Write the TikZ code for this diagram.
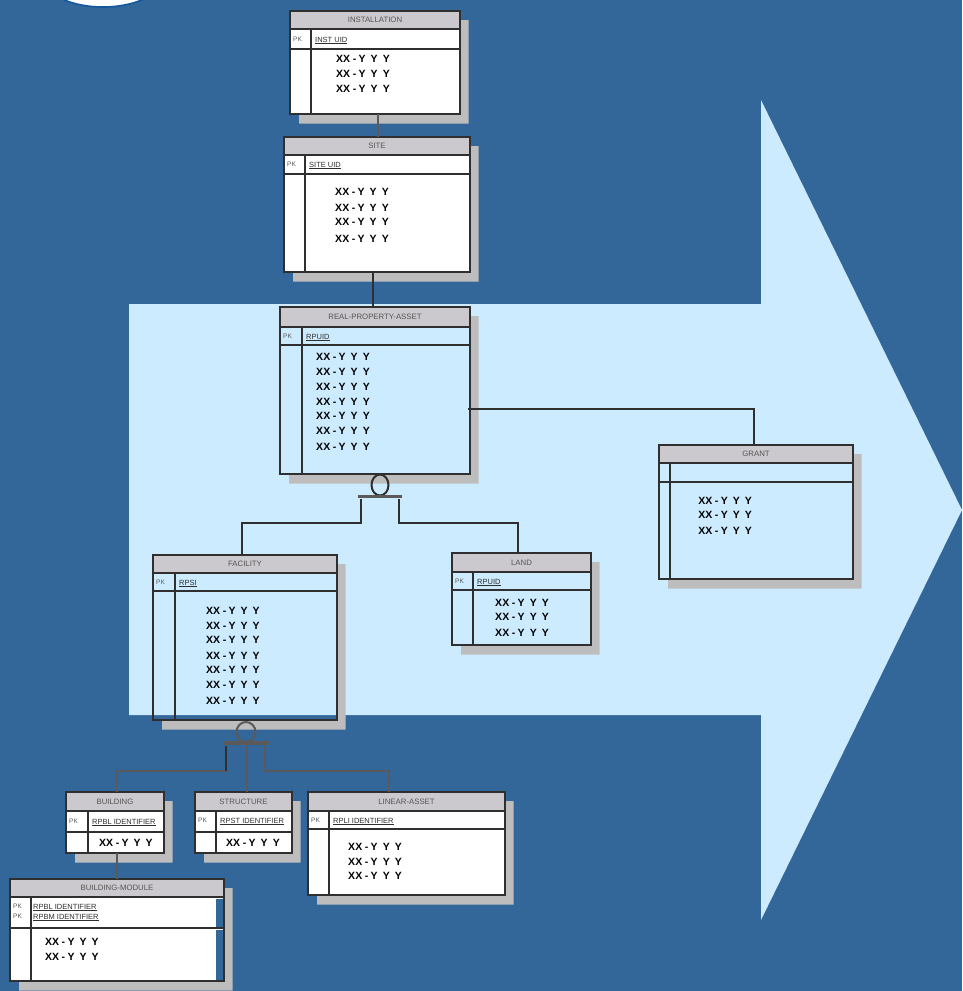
\documentclass[tikz,border=0pt]{standalone}
\usepackage{fontspec}
\setmainfont{Liberation Sans}
\usetikzlibrary{calc,shapes.geometric}
\definecolor{bgblue}{HTML}{336699}
\definecolor{arrowblue}{HTML}{CCEBFF}
\definecolor{titlegrey}{HTML}{CBC9CD}
\definecolor{shadowgrey}{HTML}{BDBDBD}
\definecolor{linedark}{HTML}{2F2F2F}
\definecolor{linemid}{HTML}{5A5A5A}
\definecolor{labelgrey}{HTML}{555555}
\definecolor{logoedge}{HTML}{14589C}
\newcommand{\xxyy}{XX\kern2.5pt-\kern2.5pt Y\kern5pt Y\kern5pt Y}
\tikzset{
  entitybox/.style={draw=linedark,line width=2pt,inner sep=0pt,outer sep=0pt,anchor=north west,rectangle},
  rule/.style={draw=linedark,line width=2pt},
  conn/.style={draw=linedark,line width=2pt},
  connmid/.style={draw=linemid,line width=2.4pt},
  titletext/.style={font=\fontsize{7.8}{8}\selectfont,text=labelgrey,inner sep=0pt},
  pktext/.style={font=\fontsize{6.5}{7}\selectfont,text=labelgrey,inner sep=0pt,anchor=west},
  keytext/.style={font=\fontsize{7.5}{8}\selectfont,text=linedark,inner sep=0pt,anchor=west},
  rowtext/.style={font=\fontsize{10.5}{11}\selectfont\bfseries,text=black,inner sep=0pt},
  zeroring/.style={draw=linedark,line width=2pt,ellipse,inner sep=0pt,outer sep=0pt},
  subbar/.style={rectangle,inner sep=0pt,outer sep=0pt,minimum height=3pt}
}
% id, x1,y1,x2,y2, ytitle, ykey, xdiv, title
\def\boxfill{none}
\newcommand{\entity}[9]{%
  \fill[shadowgrey] (#4,#3+9) -- (#4+8.5,#3+9) -- (#4+8.5,#5+9.5) -- (#2+9,#5+9.5) -- (#2+9,#5) -- (#4,#5) -- cycle;
  \ifx\boxfill\empty\else\fill[\boxfill] (#2,#3) rectangle (#4,#5);\fi
  \fill[titlegrey] (#2,#3) rectangle (#4,#6);
  \pgfmathsetmacro\ew{#4-#2}\pgfmathsetmacro\eh{#5-#3}
  \node[entitybox,minimum width=\ew pt,minimum height=\eh pt] (#1) at (#2,#3) {};
  \draw[rule] (#2,#6) -- (#4,#6);
  \draw[rule] (#2,#7) -- (#4,#7);
  \draw[rule] (#8,#6) -- (#8,#5);
  \pgfmathsetmacro\ex{(#2+#4)/2}\pgfmathsetmacro\ey{(#3+#6)/2}
  \node[titletext] (#1-title) at (\ex,\ey) {#9};
}
\newcommand{\keyrow}[6]{% id, xleft, xdiv, y, text, suffix
  \node[pktext] (#1-pk#6) at (#2+3,#4) {PK};
  \node[keytext] (#1-key#6) at (#3+4,#4+1.5) {\underline{#5}};
}
\newcommand{\rows}[3]{%
  \foreach \yy [count=\ii] in {#3} {\node[rowtext] (#1-row\ii) at (#2,\yy) {\xxyy};}
}
\begin{document}
\begin{tikzpicture}[x=1pt,y=-1pt]
\useasboundingbox (0,0) rectangle (962,991);
\fill[bgblue] (0,0) rectangle (962,991);
\path[clip] (0,0) rectangle (962,991);
\fill[white,draw=logoedge,line width=1.6pt] (103,-30) ellipse [x radius=66,y radius=37];
\fill[arrowblue] (129,304) -- (761,304) -- (761,100) -- (962,510) -- (761,920) -- (761,715) -- (129,715) -- cycle;

\def\boxfill{white}
\entity{inst}{290}{11}{460}{114}{29}{49}{311}{INSTALLATION}
\keyrow{inst}{290}{311}{39}{INST UID}{1}
\rows{inst}{363}{59,74,89}

\entity{site}{284}{137}{470}{272}{155}{174}{305}{SITE}
\keyrow{site}{284}{305}{164}{SITE UID}{1}
\rows{site}{362}{192,208,222,239}

\def\boxfill{}
\entity{rpa}{280}{307}{470}{474}{327}{345}{302}{REAL-PROPERTY-ASSET}
\keyrow{rpa}{280}{302}{336}{RPUID}{1}
\rows{rpa}{343}{357,372,387,402,416,431,447}

\entity{grant}{659}{445}{853}{579}{463}{482}{670}{GRANT}
\rows{grant}{725}{501,515,531}

\entity{fac}{153}{555}{337}{720}{573}{591}{175}{FACILITY}
\keyrow{fac}{153}{175}{582}{RPSI}{1}
\rows{fac}{233}{611,626,640,656,670,685,701}

\entity{land}{452}{553}{591}{645}{572}{590}{473}{LAND}
\keyrow{land}{452}{473}{581}{RPUID}{1}
\rows{land}{522}{603,617,633}

\def\boxfill{white}
\entity{bldg}{66}{792}{164}{853}{811}{832}{88}{BUILDING}
\keyrow{bldg}{66}{88}{821}{RPBL IDENTIFIER}{1}
\rows{bldg}{126}{843}

\entity{struct}{195}{792}{292}{853}{811}{832}{216}{STRUCTURE}
\keyrow{struct}{195}{216}{820}{RPST IDENTIFIER}{1}
\rows{struct}{253}{843}

\entity{linear}{308}{792}{505}{895}{811}{829}{329}{LINEAR-ASSET}
\keyrow{linear}{308}{329}{820}{RPLI IDENTIFIER}{1}
\rows{linear}{375}{847,862,876}

\entity{module}{10}{879}{224}{981}{897}{928}{31}{BUILDING-MODULE}
\fill[bgblue] (216,899) rectangle (222.5,927);
\fill[bgblue] (216,929.5) rectangle (222.5,980);
\keyrow{module}{10}{29}{906}{RPBL IDENTIFIER}{1}
\keyrow{module}{10}{29}{916}{RPBM IDENTIFIER}{2}
\rows{module}{72}{942,957}

\coordinate (instdrop) at (378,125);
\draw[connmid] (inst.south -| instdrop) -- (site.north -| instdrop);
\coordinate (sitedrop) at (373,290);
\draw[conn] (site.south -| sitedrop) -- (rpa.north -| sitedrop);
\coordinate (grantjoint) at (754,409);
\coordinate (rpaexit) at (468,409);
\draw[conn] (rpaexit) -- (grantjoint) -- (grant.north -| grantjoint);

\node[zeroring,minimum width=17pt,minimum height=21pt] (ring1) at (380,485) {};
\node[subbar,fill=linemid,minimum width=44pt] (bar1) at (380,496) {};
\coordinate (b1l) at (361,499);
\coordinate (b1r) at (399,499);
\coordinate (j1l) at (242,523);
\coordinate (j1r) at (518,523);
\draw[conn] (b1l) |- (j1l) -- (fac.north -| j1l);
\draw[conn] (b1r) |- (j1r) -- (land.north -| j1r);

\node[zeroring,draw=linemid,minimum width=19pt,minimum height=20pt] (ring2) at (246,732) {};
\node[subbar,fill=linemid,minimum width=45pt,minimum height=4pt] (bar2) at (246,743) {};
\coordinate (b2l) at (226,746);
\coordinate (b2m) at (247,746);
\coordinate (b2r) at (265,746);
\coordinate (j2l) at (117,771);
\coordinate (j2r) at (389,771);
\draw[connmid] (b2l) |- (j2l) -- (bldg.north -| j2l);
\draw[conn] (b2l) -- ($(b2l)+(0,25)$);
\draw[connmid] (b2m) -- (struct.north -| b2m);
\draw[connmid] (b2r) |- (j2r) -- (linear.north -| j2r);
\draw[connmid] (bldg.south -| j2l) -- (module.north -| j2l);
\end{tikzpicture}
\end{document}
